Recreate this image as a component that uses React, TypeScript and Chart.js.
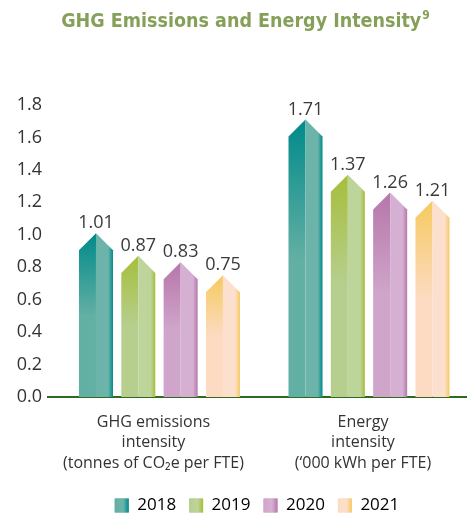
import React, { useEffect, useRef } from 'react';
import { Chart, registerables } from 'chart.js';

Chart.register(...registerables);

// ---- data ----
const categoryLabels: string[][] = [
  ['GHG emissions', 'intensity', '(tonnes of CO₂e per FTE)'],
  ['Energy', 'intensity', '(‘000 kWh per FTE)'],
];
const years = ['2018', '2019', '2020', '2021'];
const values2018 = [1.01, 1.71];
const values2019 = [0.87, 1.37];
const values2020 = [0.83, 1.26];
const values2021 = [0.75, 1.21];
const seriesValues = [values2018, values2019, values2020, values2021];
const yMin = 0;
const yMax = 1.8;
const yStep = 0.2;
const titleText = 'GHG Emissions and Energy Intensity';
const titleNote = '9';

// ---- styles ----
const palette = [
  { dark: '#008a8a', light: '#62afa4', face: '#6cb4aa' },
  { dark: '#a6be3b', light: '#b6cf8e', face: '#bdd59b' },
  { dark: '#b577aa', light: '#d0a5cb', face: '#d6b0d2' },
  { dark: '#f5ca5f', light: '#fcdbc2', face: '#fddfcd' },
];
const FONT = '"Open Sans", "DejaVu Sans", sans-serif';
const TITLE_FONT = '"DejaVu Sans Condensed", "Liberation Sans", sans-serif';
const TEXT = '#333333';

const titlePlugin = {
  id: 'customTitle',
  afterDraw(chart: any) {
    const ctx = chart.ctx;
    ctx.save();
    ctx.fillStyle = '#86a05a';
    ctx.textBaseline = 'alphabetic';
    ctx.textAlign = 'left';
    ctx.font = 'bold 19.5px ' + TITLE_FONT;
    const w1 = ctx.measureText(titleText).width;
    ctx.font = 'bold 12px ' + TITLE_FONT;
    const w2 = ctx.measureText(titleNote).width;
    const center = 245.5;
    const x0 = center - (w1 + w2 + 1) / 2;
    ctx.font = 'bold 19.5px ' + TITLE_FONT;
    ctx.fillText(titleText, x0, 27);
    ctx.font = 'bold 12px ' + TITLE_FONT;
    ctx.fillText(titleNote, x0 + w1 + 1, 19);
    ctx.restore();
  },
};

const barShapesPlugin = {
  id: 'barShapes',
  afterDatasetsDraw(chart: any) {
    const ctx = chart.ctx;
    chart.data.datasets.forEach((ds: any, di: number) => {
      const meta = chart.getDatasetMeta(di);
      const pal = palette[di];
      meta.data.forEach((el: any, i: number) => {
        const { x, y, base, width } = el.getProps(['x', 'y', 'base', 'width'], true);
        const h = width / 2;
        const roof = Math.min(h, base - y);
        ctx.save();
        // left face
        const gL = ctx.createLinearGradient(0, y, 0, base);
        gL.addColorStop(0, pal.dark);
        gL.addColorStop(0.5, pal.light);
        gL.addColorStop(1, pal.light);
        ctx.beginPath();
        ctx.moveTo(x - h, base);
        ctx.lineTo(x - h, y + roof);
        ctx.lineTo(x, y);
        ctx.lineTo(x, base);
        ctx.closePath();
        ctx.fillStyle = gL;
        ctx.fill();
        // right face
        const gR = ctx.createLinearGradient(x, 0, x + h, 0);
        gR.addColorStop(0, pal.face);
        gR.addColorStop(0.72, pal.face);
        gR.addColorStop(1, pal.dark);
        ctx.beginPath();
        ctx.moveTo(x, base);
        ctx.lineTo(x, y);
        ctx.lineTo(x + h, y + roof);
        ctx.lineTo(x + h, base);
        ctx.closePath();
        ctx.fillStyle = gR;
        ctx.fill();
        // value label
        ctx.fillStyle = '#3a3a3a';
        ctx.font = '18px ' + FONT;
        ctx.textAlign = 'center';
        ctx.textBaseline = 'alphabetic';
        ctx.fillText(seriesValues[di][i].toFixed(2), x, y - 5);
        ctx.restore();
      });
    });
  },
  afterDraw(chart: any) {
    const legend = chart.legend;
    if (!legend || !legend.legendHitBoxes) return;
    const ctx = chart.ctx;
    const opts = legend.options.labels;
    const fontSize = 17;
    legend.legendHitBoxes.forEach((hb: any, i: number) => {
      const pal = palette[i];
      const bx = hb.left;
      const by = hb.top + Math.max((fontSize - opts.boxHeight) / 2, 0);
      const g = ctx.createLinearGradient(bx, 0, bx + opts.boxWidth, 0);
      g.addColorStop(0, pal.light);
      g.addColorStop(0.6, pal.face);
      g.addColorStop(1, pal.dark);
      ctx.save();
      ctx.fillStyle = g;
      ctx.fillRect(bx, by, opts.boxWidth, opts.boxHeight);
      ctx.restore();
    });
  },
};

export default function App() {
  const ref = useRef<HTMLCanvasElement | null>(null);
  useEffect(() => {
    if (!ref.current) return;
    const chart = new Chart(ref.current, {
      type: 'bar',
      data: {
        datasets: years.map((yr, di) => ({
          label: yr,
          data: seriesValues[di].map((v, i) => ({ x: i, y: v })),
          backgroundColor: 'rgba(0,0,0,0)',
          borderWidth: 0,
          categoryPercentage: 0.808,
          barPercentage: 0.804,
        })),
      },
      options: {
        animation: false,
        responsive: true,
        maintainAspectRatio: false,
        layout: { padding: { top: 105, left: 8, right: 1, bottom: 0 } },
        scales: {
          x: {
            type: 'linear',
            min: -0.532,
            max: 1.463,
            offset: false,
            z: 1,
            grid: { display: false, drawTicks: false },
            border: { display: true, color: '#2e6a1f', width: 2 },
            afterBuildTicks: (scale: any) => {
              scale.ticks = categoryLabels.map((_, i) => ({ value: i }));
            },
            afterFit: (scale: any) => {
              scale.height = 87;
            },
            ticks: {
              autoSkip: false,
              maxRotation: 0,
              padding: 15,
              labelOffset: -6,
              color: TEXT,
              font: { family: FONT, size: 16, lineHeight: 1.28 },
              callback: (_v: any, index: number) => categoryLabels[index],
            },
          },
          y: {
            min: yMin,
            max: yMax,
            grid: { display: false, drawTicks: false },
            border: { display: false },
            afterFit: (scale: any) => {
              scale.width = 40;
            },
            ticks: {
              stepSize: yStep,
              padding: 6,
              color: TEXT,
              font: { family: FONT, size: 18 },
              callback: (v: any) => Number(v).toFixed(1),
            },
          },
        },
        plugins: {
          title: { display: false },
          tooltip: { enabled: false },
          legend: {
            position: 'bottom',
            fullSize: false,
            maxHeight: 31,
            labels: {
              boxWidth: 14,
              boxHeight: 14,
              padding: 13,
              color: '#222222',
              font: { family: FONT, size: 17 },
              generateLabels: (c: any) =>
                c.data.datasets.map((ds: any, i: number) => ({
                  text: ds.label,
                  fillStyle: palette[i].light,
                  strokeStyle: palette[i].light,
                  lineWidth: 0,
                  hidden: false,
                  datasetIndex: i,
                })),
            },
          },
        },
      },
      plugins: [barShapesPlugin, titlePlugin],
    } as any);
    return () => chart.destroy();
  }, []);
  return (
    <div style={{ position: 'fixed', left: 0, top: 0, width: 467, height: 515, background: '#ffffff' }}>
      <canvas ref={ref} />
    </div>
  );
}
